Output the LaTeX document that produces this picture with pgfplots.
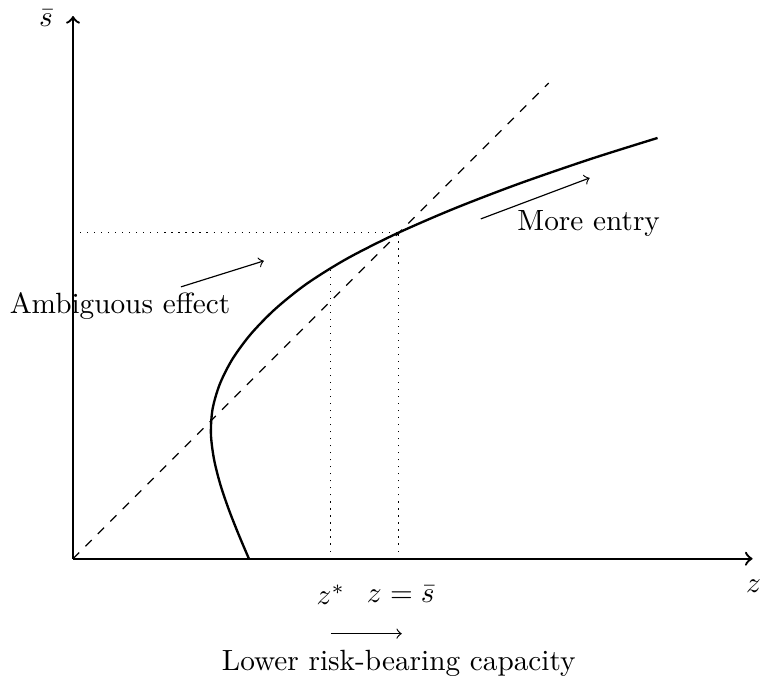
\documentclass[border=0pt]{standalone}
\usepackage{pgfplots}
\pgfplotsset{compat=1.18}
\begin{document}
\begin{tikzpicture}
\begin{axis}[
  x=1.2cm, y=1.2cm,
  xmin=0, xmax=6.80, ymin=0, ymax=5.43,
  axis lines=left,
  axis line style={thick, ->},
  xtick=\empty, ytick=\empty,
  clip=false,
]
% 45-degree line
\addplot[dashed, thin] coordinates {(0,0) (4.76,4.76)};
% curve
\addplot[thick, smooth] coordinates {
(1.760,0) (1.654,0.25) (1.556,0.5) (1.472,0.75) (1.410,1.0) (1.380,1.25)
(1.397,1.5) (1.470,1.75) (1.597,2.0) (1.781,2.25) (2.025,2.5) (2.337,2.75)
(2.737,3.0) (3.231,3.25) (3.806,3.5) (4.456,3.75) (5.181,4.0) (5.849,4.21)};
% dotted guides
\addplot[dotted, thin] coordinates {(0,3.26) (3.26,3.26)};
\addplot[dotted, thin] coordinates {(3.26,0) (3.26,3.26)};
\addplot[dotted, thin] coordinates {(2.58,0) (2.58,2.94)};
% arrows
\addplot[->] coordinates {(1.08,2.72) (1.91,2.98)};
\addplot[->] coordinates {(4.08,3.40) (5.17,3.81)};
\addplot[->] coordinates {(2.58,-0.75) (3.29,-0.75)};
% labels
\node at (axis cs:0.47,2.53) {Ambiguous effect};
\node at (axis cs:5.16,3.35) {More entry};
\node[inner sep=0.5pt] at (axis cs:2.58,-0.36) {$z^*$};
\node[inner sep=0.5pt] at (axis cs:3.28,-0.36) {$z=\bar{s}$};
\node[inner sep=0pt] at (axis cs:6.81,-0.28) {$z$};
\node at (axis cs:-0.27,5.41) {$\bar{s}$};
\node at (axis cs:3.26,-1.05) {Lower risk-bearing capacity};
\end{axis}
\end{tikzpicture}
\end{document}
